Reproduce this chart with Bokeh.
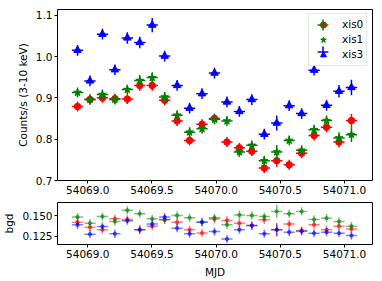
from bokeh.plotting import figure
from bokeh.layouts import column
from bokeh.models import (Range1d, FixedTicker, PrintfTickFormatter, ColumnDataSource,
                          Legend, LegendItem)
from bokeh.embed import file_html
from bokeh.resources import INLINE

# ---------------- data ----------------
mjd = [54068.920, 54069.017, 54069.114, 54069.211, 54069.308, 54069.405, 54069.502,
       54069.599, 54069.696, 54069.793, 54069.890, 54069.987, 54070.084, 54070.181,
       54070.278, 54070.375, 54070.472, 54070.569, 54070.666, 54070.763, 54070.860,
       54070.957, 54071.054]
mjd_err = [0.044] * 23

xis0 = [0.879, 0.896, 0.900, 0.898, 0.897, 0.930, 0.930, 0.894, 0.844, 0.797, 0.836, 0.850,
        0.793, 0.779, 0.771, 0.730, 0.748, 0.738, 0.766, 0.809, 0.829, 0.793, 0.845]
xis1 = [0.913, 0.896, 0.908, 0.896, 0.920, 0.942, 0.949, 0.902, 0.858, 0.817, 0.825, 0.848,
        0.844, 0.769, 0.785, 0.748, 0.769, 0.797, 0.773, 0.823, 0.845, 0.803, 0.811]
xis3 = [1.015, 0.941, 1.054, 0.968, 1.045, 1.034, 1.076, 1.001, 0.930, 0.875, 0.910, 0.960,
        0.890, 0.867, 0.896, 0.812, 0.839, 0.881, 0.862, 0.967, 0.882, 0.916, 0.925]
xis0_err = [0.012, 0.012, 0.012, 0.012, 0.012, 0.013, 0.013, 0.012, 0.012, 0.012, 0.012, 0.012,
            0.012, 0.012, 0.012, 0.012, 0.015, 0.012, 0.012, 0.012, 0.012, 0.013, 0.016]
xis1_err = [0.012, 0.012, 0.012, 0.012, 0.012, 0.013, 0.013, 0.012, 0.012, 0.012, 0.012, 0.012,
            0.012, 0.012, 0.012, 0.012, 0.017, 0.012, 0.012, 0.012, 0.012, 0.014, 0.018]
xis3_err = [0.013, 0.013, 0.013, 0.013, 0.014, 0.014, 0.017, 0.013, 0.013, 0.013, 0.013, 0.013,
            0.013, 0.013, 0.013, 0.013, 0.018, 0.013, 0.013, 0.013, 0.013, 0.015, 0.019]

bgd0 = [0.1422, 0.1360, 0.1330, 0.1463, 0.1455, 0.1330, 0.1373, 0.1450, 0.1420, 0.1328, 0.1290,
        0.1460, 0.1443, 0.1410, 0.1380, 0.1450, 0.1330, 0.1400, 0.1320, 0.1390, 0.1330, 0.1373,
        0.1340]
bgd1 = [0.1484, 0.1410, 0.1490, 0.1430, 0.1566, 0.1525, 0.1463, 0.1455, 0.1504, 0.1475, 0.1425,
        0.1475, 0.1390, 0.1510, 0.1504, 0.1490, 0.1553, 0.1525, 0.1553, 0.1455, 0.1470, 0.1430,
        0.1373]
bgd3 = [0.1389, 0.1275, 0.1370, 0.1280, 0.1439, 0.1330, 0.1400, 0.1484, 0.1348, 0.1280, 0.1420,
        0.1307, 0.1217, 0.1330, 0.1380, 0.1280, 0.1330, 0.1300, 0.1310, 0.1287, 0.1300, 0.1287,
        0.1258]
bgd_err = [0.005, 0.005, 0.005, 0.005, 0.005, 0.005, 0.005, 0.005, 0.005, 0.005, 0.005, 0.005,
           0.005, 0.005, 0.005, 0.005, 0.008, 0.005, 0.005, 0.005, 0.005, 0.005, 0.005]

series_names = ["xis0", "xis1", "xis3"]
series_colors = ["#ff0000", "#008000", "#0000ff"]
series_markers = ["circle", "star", "triangle"]

x_ticks = [54069.0, 54069.5, 54070.0, 54070.5, 54071.0]
top_y_ticks = [0.7, 0.8, 0.9, 1.0, 1.1]
bot_y_ticks = [0.125, 0.150]

FONT = "DejaVu Sans"
FS = "10.5px"


def make_source(x, xe, y, ye):
    return ColumnDataSource(dict(
        x=x, y=y,
        xl=[a - b for a, b in zip(x, xe)], xh=[a + b for a, b in zip(x, xe)],
        yl=[a - b for a, b in zip(y, ye)], yh=[a + b for a, b in zip(y, ye)],
    ))


def style(p):
    p.outline_line_color = "black"
    p.outline_line_width = 1
    p.grid.grid_line_color = None
    p.background_fill_color = "white"
    p.border_fill_color = "white"
    for ax in p.axis:
        ax.axis_line_color = None
        ax.major_tick_line_color = "black"
        ax.major_tick_line_width = 1
        ax.major_tick_in = 0
        ax.major_tick_out = 3
        ax.minor_tick_line_color = None
        ax.major_label_text_font = FONT
        ax.major_label_text_font_size = FS
        ax.major_label_text_color = "black"
        ax.major_label_standoff = 2
        ax.axis_label_text_font = FONT
        ax.axis_label_text_font_size = FS
        ax.axis_label_text_font_style = "normal"
        ax.axis_label_text_color = "black"


x_range = Range1d(54068.764, 54071.218)

# ---------------- top panel ----------------
p1 = figure(width=374, height=198, x_range=x_range, y_range=Range1d(0.7, 1.1138),
            output_backend="svg", toolbar_location=None,
            min_border_left=57, min_border_right=2, min_border_top=9, min_border_bottom=18)
style(p1)
p1.xaxis.ticker = FixedTicker(ticks=x_ticks)
p1.xaxis.formatter = PrintfTickFormatter(format="%.1f")
p1.yaxis.ticker = FixedTicker(ticks=top_y_ticks)
p1.yaxis.formatter = PrintfTickFormatter(format="%.1f")
p1.yaxis.axis_label = "Counts/s (3-10 keV)"
p1.yaxis.axis_label_standoff = 4

marker_items = []
cross_items = []
for name, ys, ye, col, mk in zip(series_names, [xis0, xis1, xis3],
                                 [xis0_err, xis1_err, xis3_err],
                                 series_colors, series_markers):
    src = make_source(mjd, mjd_err, ys, ye)
    p1.segment(x0="xl", y0="y", x1="xh", y1="y", source=src, line_color=col, line_width=1.5)
    p1.segment(x0="x", y0="yl", x1="x", y1="yh", source=src, line_color=col, line_width=1.5)
    size = {"circle": 6.5, "star": 8.0, "triangle": 7.5}[mk]
    r = p1.scatter(x="x", y="y", source=src, marker=mk, size=size,
                   fill_color=col, line_color=col, line_width=1)
    rc = p1.scatter(x="x", y="y", source=src, marker="cross", size=0,
                    line_color=col, line_width=1.5)
    marker_items.append(LegendItem(label=name, renderers=[r]))
    cross_items.append(LegendItem(label=" ", renderers=[rc]))

leg_b = Legend(items=marker_items, location=(251, 114.5), orientation="vertical",
               glyph_width=22, glyph_height=15, label_height=15, label_standoff=8,
               padding=3, spacing=0, margin=0,
               label_text_font=FONT, label_text_font_size=FS, label_text_color="black",
               border_line_color="#cccccc", border_line_width=1,
               background_fill_color="white", background_fill_alpha=0.8)
leg_a = Legend(items=cross_items, location=(251.5, 115), orientation="vertical",
               glyph_width=27, glyph_height=27, label_height=15, label_standoff=0,
               padding=0, spacing=-12, margin=0,
               label_text_font=FONT, label_text_font_size="2px",
               border_line_alpha=0, background_fill_alpha=0)
p1.add_layout(leg_b, "center")
p1.add_layout(leg_a, "center")

# ---------------- bottom panel ----------------
p2 = figure(width=374, height=82, x_range=x_range, y_range=Range1d(0.115, 0.1661),
            output_backend="svg", toolbar_location=None,
            min_border_left=57, min_border_right=2, min_border_top=4, min_border_bottom=36)
style(p2)
p2.xaxis.ticker = FixedTicker(ticks=x_ticks)
p2.xaxis.formatter = PrintfTickFormatter(format="%.1f")
p2.yaxis.ticker = FixedTicker(ticks=bot_y_ticks)
p2.yaxis.formatter = PrintfTickFormatter(format="%.3f")
p2.xaxis.axis_label = "MJD"
p2.xaxis.axis_label_standoff = 5
p2.yaxis.axis_label = "bgd"
p2.yaxis.axis_label_standoff = 4

for ys, col in zip([bgd0, bgd1, bgd3], series_colors):
    src = make_source(mjd, mjd_err, ys, bgd_err)
    p2.segment(x0="xl", y0="y", x1="xh", y1="y", source=src, line_color=col,
               line_width=1.5, line_alpha=0.5)
    p2.segment(x0="x", y0="yl", x1="x", y1="yh", source=src, line_color=col,
               line_width=1.5, line_alpha=0.5)
    p2.scatter(x="x", y="y", source=src, marker="circle", size=3.5,
               fill_color=col, line_color=col, fill_alpha=0.5, line_alpha=0.5)

layout = column(p1, p2, spacing=0)
open("out.html", "w").write(file_html(layout, INLINE))
